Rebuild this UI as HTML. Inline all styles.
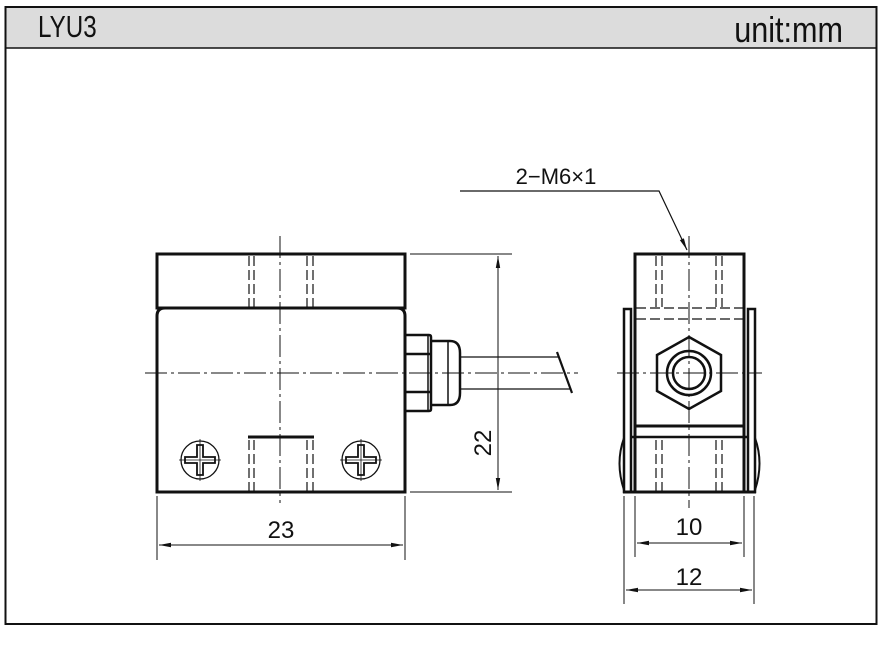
<!DOCTYPE html>
<html><head><meta charset="utf-8"><style>
html,body{margin:0;padding:0;background:#fff;width:885px;height:657px;overflow:hidden}
svg{display:block}
text{font-family:"Liberation Sans",sans-serif;fill:#111}
</style></head><body>
<svg width="885" height="657" viewBox="0 0 885 657" xmlns="http://www.w3.org/2000/svg">
<defs>
<marker id="a" markerWidth="12" markerHeight="6" refX="12" refY="3" orient="auto-start-reverse" markerUnits="userSpaceOnUse"><path d="M0,0.8 L12,3 L0,5.2z" fill="#111"/></marker>
</defs>
<!-- frame -->
<rect x="5.5" y="7" width="871" height="41" fill="#dcdcdc"/>
<rect x="5.5" y="7" width="871" height="617" fill="none" stroke="#111" stroke-width="2"/>
<line x1="5" y1="48" x2="877" y2="48" stroke="#111" stroke-width="1.5"/>
<text transform="translate(38,37) scale(0.78,1)" font-size="31">LYU3</text>
<text transform="translate(843,42) scale(0.85,1)" font-size="36" text-anchor="end">unit:mm</text>

<g stroke="#111" fill="none">
<!-- LEFT VIEW -->
<rect x="157" y="254" width="248" height="54" stroke-width="3"/>
<path d="M157,492 V316 Q157,308 165,308 H397 Q405,308 405,316 V492 Z" stroke-width="3"/>
<g stroke-width="1.2" stroke-dasharray="10,4">
<line x1="249" y1="256" x2="249" y2="307"/><line x1="254" y1="256" x2="254" y2="307"/>
<line x1="307" y1="256" x2="307" y2="307"/><line x1="313" y1="256" x2="313" y2="307"/>
<line x1="249" y1="440" x2="249" y2="491"/><line x1="254" y1="440" x2="254" y2="491"/>
<line x1="307" y1="440" x2="307" y2="491"/><line x1="313" y1="440" x2="313" y2="491"/>
</g>
<line x1="248" y1="437" x2="314" y2="437" stroke-width="3"/>
<g stroke-width="1" stroke-dasharray="22,4,3,4">
<line x1="280" y1="236" x2="280" y2="503"/>
<line x1="145" y1="373" x2="578" y2="373"/>
</g>
<g stroke-width="1.3">
<circle cx="200" cy="460" r="19"/><circle cx="361" cy="460" r="19"/>
<path d="M197,445 h6 v12 h12 v6 h-12 v12 h-6 v-12 h-12 v-6 h12z" stroke-width="1.8"/>
<path d="M358,445 h6 v12 h12 v6 h-12 v12 h-6 v-12 h-12 v-6 h12z" stroke-width="1.8"/>
<line x1="179" y1="460" x2="221" y2="460" stroke-width="0.8"/><line x1="200" y1="439" x2="200" y2="481" stroke-width="0.8"/>
<line x1="340" y1="460" x2="382" y2="460" stroke-width="0.8"/><line x1="361" y1="439" x2="361" y2="481" stroke-width="0.8"/>
</g>
<path d="M405,335 H429 Q431,335 431,337 V409 Q431,411 429,411 H405" stroke-width="2.5"/>
<line x1="405" y1="354" x2="430" y2="354" stroke-width="2.5"/>
<line x1="405" y1="392" x2="430" y2="392" stroke-width="2.5"/>
<line x1="428" y1="336" x2="428" y2="410" stroke-width="1.5"/>
<path d="M432,341 H450 Q460,341 460,353 V393 Q460,405 450,405 H432" stroke-width="2.5"/>
<line x1="448" y1="342" x2="448" y2="404" stroke-width="1.5"/>
<line x1="460" y1="357" x2="558" y2="357" stroke-width="1.2"/>
<line x1="460" y1="389" x2="571" y2="389" stroke-width="1.2"/>
<line x1="557" y1="352" x2="572" y2="393" stroke-width="2.2"/>
<g stroke-width="1">
<line x1="410" y1="254" x2="512" y2="254"/>
<line x1="410" y1="492" x2="512" y2="492"/>
<line x1="498" y1="256" x2="498" y2="490" marker-start="url(#a)" marker-end="url(#a)"/>
<line x1="157" y1="496" x2="157" y2="560"/>
<line x1="405" y1="496" x2="405" y2="560"/>
<line x1="159" y1="545" x2="403" y2="545" marker-start="url(#a)" marker-end="url(#a)"/>
</g>

<!-- RIGHT VIEW -->
<rect x="635" y="254" width="109" height="238" stroke-width="3"/>
<path d="M631,492 V309 H624 V492 Z" stroke-width="2.5"/>
<path d="M748,492 V309 H755 V492 Z" stroke-width="2.5"/>
<line x1="623" y1="492" x2="756" y2="492" stroke-width="3"/>
<line x1="636" y1="426" x2="743" y2="426" stroke-width="3"/>
<line x1="631" y1="437" x2="748" y2="437" stroke-width="2.5"/>
<path d="M624,438 Q615,463 624,490" stroke-width="2"/>
<path d="M755,438 Q764,463 755,490" stroke-width="2"/>
<g stroke-width="1.2" stroke-dasharray="10,4">
<line x1="636" y1="308" x2="745" y2="308"/><line x1="636" y1="319" x2="743" y2="319"/>
<line x1="656" y1="256" x2="656" y2="307"/><line x1="662" y1="256" x2="662" y2="307"/>
<line x1="716" y1="256" x2="716" y2="307"/><line x1="722" y1="256" x2="722" y2="307"/>
<line x1="656" y1="440" x2="656" y2="491"/><line x1="662" y1="440" x2="662" y2="491"/>
<line x1="716" y1="440" x2="716" y2="491"/><line x1="722" y1="440" x2="722" y2="491"/>
</g>
<polygon points="689,337 721,355 721,391 689,409 657,391 657,355" stroke-width="2.5"/>
<circle cx="689" cy="373" r="22" stroke-width="2.5"/>
<circle cx="689" cy="373" r="16" stroke-width="2.5"/>
<g stroke-width="1" stroke-dasharray="22,4,3,4">
<line x1="689" y1="236" x2="689" y2="508"/>
<line x1="617" y1="373" x2="762" y2="373"/>
</g>
<polyline points="460,191 659,191 687,250" stroke-width="1.2" marker-end="url(#a)"/>
<g stroke-width="1">
<line x1="635" y1="496" x2="635" y2="557"/>
<line x1="744" y1="496" x2="744" y2="557"/>
<line x1="637" y1="543" x2="742" y2="543" marker-start="url(#a)" marker-end="url(#a)"/>
<line x1="624" y1="496" x2="624" y2="604"/>
<line x1="754" y1="496" x2="754" y2="604"/>
<line x1="626" y1="590" x2="752" y2="590" marker-start="url(#a)" marker-end="url(#a)"/>
</g>
</g>
<text x="281" y="538" font-size="24" text-anchor="middle">23</text>
<text x="689" y="535" font-size="24" text-anchor="middle">10</text>
<text x="689" y="585" font-size="24" text-anchor="middle">12</text>
<text x="556" y="184" font-size="22" text-anchor="middle">2−M6×1</text>
<text transform="translate(491,443) rotate(-90)" font-size="24" text-anchor="middle">22</text>
</svg>
</body></html>
